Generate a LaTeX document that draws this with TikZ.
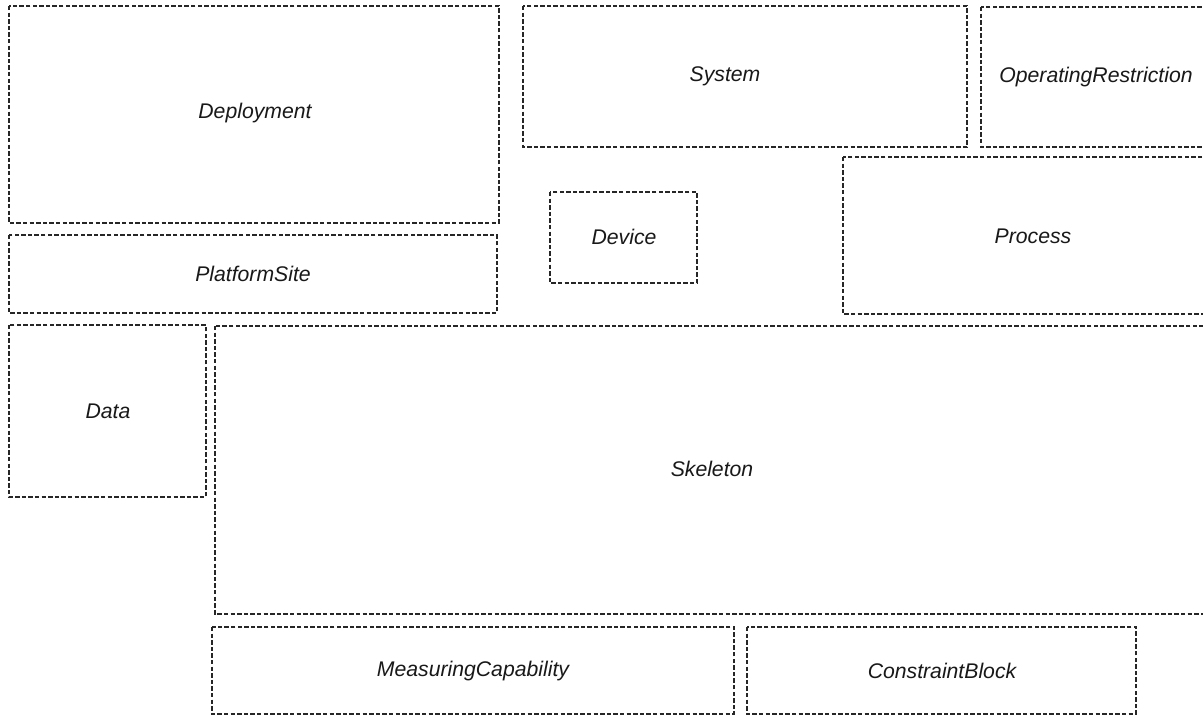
\documentclass[tikz,border=0pt]{standalone}
\usepackage{fontspec}
\setmainfont{Liberation Sans}
\begin{document}
\begin{tikzpicture}[x=0.5pt,y=-0.5pt,
  box/.style={draw=black!85,line width=0.7pt,dash pattern=on 2.2pt off 1.1pt},
  lbl/.style={font=\fontsize{10.6}{12}\selectfont\itshape,inner sep=0pt,text=black!90}]
\useasboundingbox (0,0) rectangle (1203,716);
\clip (0,0) rectangle (1203,716);
\fill[white] (0,0) rectangle (1203,716);
% boxes
\draw[box] (9,6) rectangle (499,223);
\draw[box] (9,235) rectangle (497,313);
\draw[box] (523,6) rectangle (967,147);
\draw[box] (981,7) rectangle (1212,147);
\draw[box] (550,192) rectangle (697,283);
\draw[box] (843,157) rectangle (1222,314);
\draw[box] (9,325) rectangle (206,497);
\draw[box] (215,326) rectangle (1210,614);
\draw[box] (212,627) rectangle (734,714);
\draw[box] (747,627) rectangle (1136,714);
% labels
\node[lbl] (deployment) at (255,113) {Deployment};
\node[lbl] (platformsite) at (253,274) {PlatformSite};
\node[lbl] (system) at (725,76) {System};
\node[lbl] (oprestr) at (1096,77) {OperatingRestriction};
\node[lbl] (device) at (624,237) {Device};
\node[lbl] (process) at (1033,236) {Process};
\node[lbl] (data) at (108,411) {Data};
\node[lbl] (skeleton) at (712,469) {Skeleton};
\node[lbl] (meascap) at (473,671) {MeasuringCapability};
\node[lbl] (constraint) at (942,671) {ConstraintBlock};
\end{tikzpicture}
\end{document}
